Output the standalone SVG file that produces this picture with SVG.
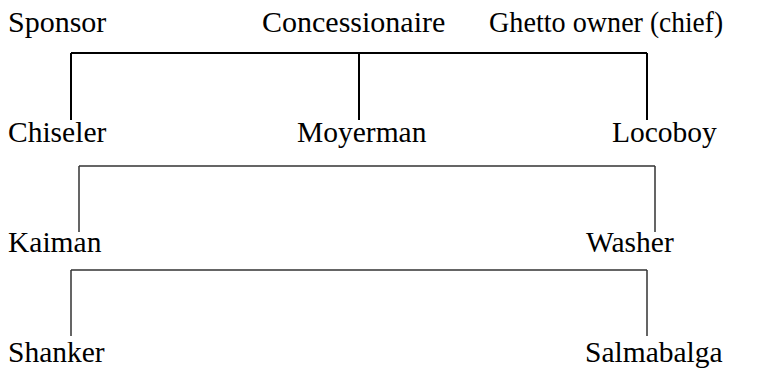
<svg xmlns="http://www.w3.org/2000/svg" width="765" height="371" viewBox="0 0 765 371">
<style>
text{font-family:"Liberation Serif","Times New Roman","DejaVu Serif",serif;font-size:29.5px;fill:#000}
.top{font-size:30px}
.c1{stroke:#000;stroke-width:2;fill:none}
.c2{stroke:#333;stroke-width:1.5;fill:none}
</style>
<rect width="765" height="371" fill="#fff"/>
<g id="connectors">
<path class="c1" d="M71,53 H647 M71,53 V120 M359,53 V120 M647,53 V120"/>
<path class="c2" d="M79,166 H655 M79,166 V232 M655,166 V232"/>
<path class="c2" d="M71,270 H647 M71,270 V336 M647,270 V336"/>
</g>
<g id="sponsor"><text class="top" x="8" y="32">Sponsor</text></g>
<g id="concessionaire"><text class="top" x="262" y="32">Concessionaire</text></g>
<g id="ghetto-owner"><text class="top" x="489" y="32" textLength="154" lengthAdjust="spacingAndGlyphs">Ghetto owner</text><text class="top" x="650" y="32" textLength="73" lengthAdjust="spacingAndGlyphs">(chief)</text></g>
<g id="chiseler"><text x="8" y="142">Chiseler</text></g>
<g id="moyerman"><text x="297" y="142">Moyerman</text></g>
<g id="locoboy"><text x="612" y="142">Locoboy</text></g>
<g id="kaiman"><text x="8" y="252">Kaiman</text></g>
<g id="washer"><text x="586" y="252">Washer</text></g>
<g id="shanker"><text x="8" y="362">Shanker</text></g>
<g id="salmabalga"><text x="585" y="362">Salmabalga</text></g>
</svg>
